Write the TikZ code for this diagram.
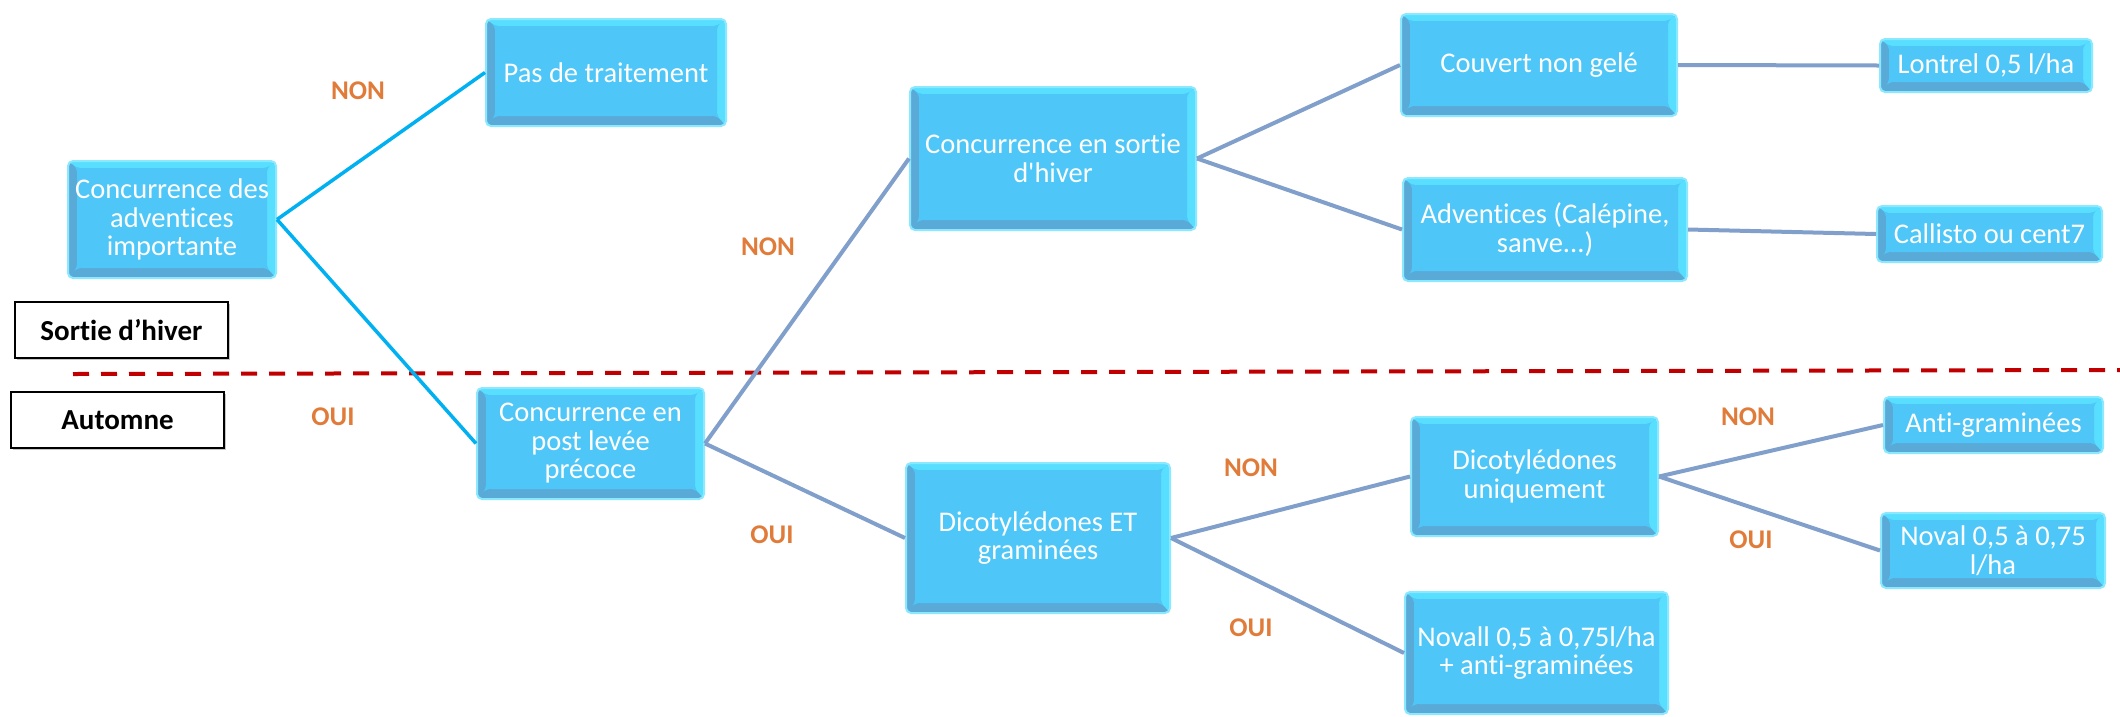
\documentclass[tikz,border=0pt]{standalone}
\usepackage{fontspec}
\setmainfont{Carlito}[Ligatures={TeXOff,NoCommon}]
\usetikzlibrary{shadows}
\definecolor{boxfill}{HTML}{4EC7F8}
\definecolor{boxlight}{HTML}{58DEFF}
\definecolor{boxdark}{HTML}{5AAAD8}
\definecolor{boxedge}{HTML}{8AE8FF}
\definecolor{cyanline}{HTML}{00B0F0}
\definecolor{greyline}{HTML}{819FCB}
\definecolor{labelor}{HTML}{E07B39}
\definecolor{dashred}{HTML}{C00000}
\tikzset{
  x=1pt, y=-1pt,
  bluebox/.style={rounded corners=5pt, fill=boxfill, draw=boxedge, line width=2pt,
    align=center, text=white, inner sep=0pt,
    font=\fontsize{28.5}{28.5}\selectfont,
    path picture={
      \fill[boxlight] (path picture bounding box.north west) -- (path picture bounding box.north east)
        -- ([xshift=-9pt,yshift=-7pt]path picture bounding box.north east) -- ([xshift=9pt,yshift=-7pt]path picture bounding box.north west) -- cycle;
      \fill[boxlight] (path picture bounding box.north east) -- (path picture bounding box.south east)
        -- ([xshift=-9pt,yshift=10pt]path picture bounding box.south east) -- ([xshift=-9pt,yshift=-7pt]path picture bounding box.north east) -- cycle;
      \fill[boxdark] (path picture bounding box.south east) -- (path picture bounding box.south west)
        -- ([xshift=9pt,yshift=10pt]path picture bounding box.south west) -- ([xshift=-9pt,yshift=10pt]path picture bounding box.south east) -- cycle;
      \fill[boxdark] (path picture bounding box.south west) -- (path picture bounding box.north west)
        -- ([xshift=9pt,yshift=-7pt]path picture bounding box.north west) -- ([xshift=9pt,yshift=10pt]path picture bounding box.south west) -- cycle;
      \fill[boxfill] ([xshift=9pt,yshift=-7pt]path picture bounding box.north west) rectangle ([xshift=-9pt,yshift=10pt]path picture bounding box.south east);
    }},
  seasonbox/.style={draw=black, line width=1.5pt, fill=white, minimum width=213pt, minimum height=56pt,
    font=\bfseries\fontsize{29}{29}\selectfont, inner sep=0pt,
    drop shadow={shadow xshift=1.5pt, shadow yshift=-1.5pt, opacity=0.45}},
  answer/.style={text=labelor, font=\bfseries\fontsize{27}{27}\selectfont, inner sep=0pt},
  cyanconn/.style={draw=cyanline, line width=3.5pt},
  greyconn/.style={draw=greyline, line width=4pt},
}
\begin{document}
\begin{tikzpicture}
\useasboundingbox (0,0) rectangle (2120,716);

% dashed season separator
\coordinate (dl) at (73,374);
\coordinate (dr) at (2120,370);
\draw[dashred, line width=4pt, dash pattern=on 16pt off 12pt] (dl) -- (dr);

% season boxes
\node[seasonbox] (sortie) at (121.5,330) {Sortie d’hiver};
\node[seasonbox] (automne) at (117.5,420) {Automne};

% decision boxes
\node[bluebox, minimum width=208pt, minimum height=117pt] (root) at (172,219.5) {Concurrence des\\adventices\\importante};
\node[bluebox, minimum width=240pt, minimum height=107pt] (pas) at (606,72.5) {Pas de traitement};
\node[bluebox, minimum width=227pt, minimum height=111pt] (post) at (590.5,443.5) {Concurrence en\\post levée\\précoce};
\node[bluebox, minimum width=286pt, minimum height=143pt] (sortieh) at (1053,158.5) {Concurrence en sortie\\d'hiver};
\node[bluebox, minimum width=276pt, minimum height=102pt] (couvert) at (1539,65) {Couvert non gelé};
\node[bluebox, minimum width=284pt, minimum height=103pt] (advent) at (1545,229.5) {Adventices (Calépine,\\sanve...)};
\node[bluebox, minimum width=212pt, minimum height=53pt] (lontrel) at (1986,65.5) {Lontrel 0,5 l/ha};
\node[bluebox, minimum width=225pt, minimum height=56pt] (callisto) at (1989.5,234) {Callisto ou cent7};
\node[bluebox, minimum width=264pt, minimum height=150pt] (dicoet) at (1038,538) {Dicotylédones ET\\graminées};
\node[bluebox, minimum width=247pt, minimum height=119pt] (dicou) at (1534.5,476.5) {Dicotylédones\\uniquement};
\node[bluebox, minimum width=263pt, minimum height=122pt] (novall) at (1536.5,653) {Novall 0,5 à 0,75l/ha\\+ anti-graminées};
\node[bluebox, minimum width=219pt, minimum height=56pt] (anti) at (1993.5,425) {Anti-graminées};
\node[bluebox, minimum width=224pt, minimum height=75pt] (noval) at (1993,550.5) {Noval 0,5 à 0,75\\l/ha};

% connectors
\draw[cyanconn] (root.east) -- (pas.west);
\draw[cyanconn] (root.east) -- (post.west);
\draw[greyconn] (post.east) -- (sortieh.west);
\draw[greyconn] (post.east) -- (dicoet.west);
\draw[greyconn] (sortieh.east) -- (couvert.west);
\draw[greyconn] (sortieh.east) -- (advent.west);
\draw[greyconn] (couvert.east) -- (lontrel.west);
\draw[greyconn] (advent.east) -- (callisto.west);
\draw[greyconn] (dicoet.east) -- (dicou.west);
\draw[greyconn] (dicoet.east) -- (novall.west);
\draw[greyconn] (dicou.east) -- (anti.west);
\draw[greyconn] (dicou.east) -- (noval.west);

% answer labels
\node[answer] (l1) at (358,91) {NON};
\node[answer] (l2) at (333,417) {OUI};
\node[answer] (l3) at (768,247) {NON};
\node[answer] (l4) at (772,535) {OUI};
\node[answer] (l5) at (1251,468) {NON};
\node[answer] (l6) at (1251,628) {OUI};
\node[answer] (l7) at (1748,417) {NON};
\node[answer] (l8) at (1751,540) {OUI};
\end{tikzpicture}
\end{document}
